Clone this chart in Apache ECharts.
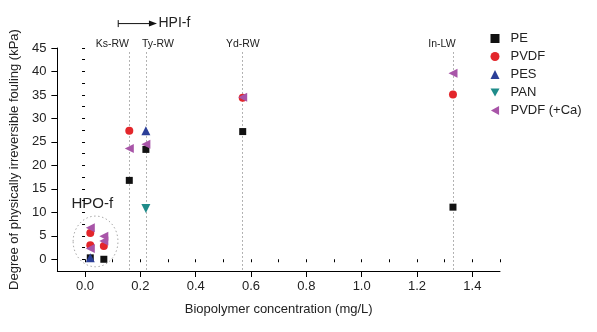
<!DOCTYPE html>
<html><head><meta charset="utf-8">
<script src="https://cdn.jsdelivr.net/npm/echarts@6/dist/echarts.min.js"></script>
<style>html,body{margin:0;padding:0;background:#fff}#c{width:597px;height:332px}</style>
</head><body><div id="c"></div>
<script>
// ---- data ----
const xTicks = [0, 0.2, 0.4, 0.6, 0.8, 1.0, 1.2, 1.4];
const yTicks = [0, 5, 10, 15, 20, 25, 30, 35, 40, 45];
const sampleNames = ['Ks-RW', 'Ty-RW', 'Yd-RW', 'In-LW'];
const sampleX = [0.16, 0.22, 0.57, 1.33];
const seriesNames = ['PE', 'PVDF', 'PES', 'PAN', 'PVDF (+Ca)'];
const pe = [[0.019, 0.3], [0.068, 0.0], [0.16, 16.8], [0.22, 23.4], [0.57, 27.2], [1.33, 11.1]];
const pvdf = [[0.019, 5.6], [0.019, 3.0], [0.068, 2.8], [0.16, 27.4], [0.57, 34.4], [1.33, 35.1]];
const pes = [[0.019, 0.3], [0.22, 27.4]];
const pan = [[0.22, 10.8]];
const pvdfCa = [[0.019, 6.7], [0.019, 2.3], [0.068, 4.9], [0.068, 3.9], [0.16, 23.6], [0.22, 24.5], [0.57, 34.5], [1.33, 39.6]];
const hpoRegion = { x: [-0.043, 0.119], y: [-1.6, 9.2] };
const hpoLabel = { text: 'HPO-f', x: 0.026, y: 11.7 };
const hpiArrow = { text: 'HPI-f', x: [0.12, 0.26], y: 50.2 };

// ---- styles ----
const FONT = '"Liberation Sans", Arial, Helvetica, sans-serif';
const TXT = '#222';
const colors = ['#111111', '#e3262b', '#2b3f98', '#1f8c8a', '#a855a8'];
const symbols = ['rect', 'circle', 'triangle', 'path://M0,0 L10,0 L5,9 Z', 'path://M0,5 L9,0 L9,10 Z'];
const sizes = [7, 8, 9, 9, 9];
const dataSets = [pe, pvdf, pes, pan, pvdfCa];

const chart = echarts.init(document.getElementById('c'), null, { renderer: 'canvas' });

const series = [{
  name: 'refLines', type: 'scatter', data: [], xAxisIndex: 0, yAxisIndex: 0,
  z: 1,
  markLine: {
    z: 1,
    silent: true, symbol: 'none', animation: false,
    label: { show: false },
    lineStyle: { type: [1.5, 2.5], color: '#9a9a9a', width: 1 },
    data: sampleX.map(x => [{ coord: [x, 44.1] }, { coord: [x, -2.5] }])
  }
}];
dataSets.forEach((d, i) => series.push({
  name: seriesNames[i],
  type: 'scatter',
  xAxisIndex: 0, yAxisIndex: 0,
  data: d,
  symbol: symbols[i],
  symbolSize: sizes[i],
  itemStyle: { color: colors[i], opacity: 1 },
  z: 3 + i
}));

const axisCommon = {
  axisLine: { show: false },
  splitLine: { show: false },
};

chart.setOption({
  animation: false,
  backgroundColor: '#fff',
  textStyle: { fontFamily: FONT },
  grid: { left: 57, right: 97, top: 48, bottom: 61, containLabel: false },
  legend: {
    orient: 'vertical', left: 485.5, top: 27,
    itemWidth: 9, itemHeight: 9, itemGap: 5,
    data: seriesNames,
    textStyle: { fontSize: 13, color: TXT, fontFamily: FONT, padding: [0, 0, 0, 6] }
  },
  xAxis: [
    Object.assign({}, axisCommon, {
      type: 'value', position: 'bottom', min: -0.1, max: 1.5, interval: 0.1,
      axisLabel: { show: false },
      axisTick: { show: true, length: 3, lineStyle: { color: '#000' } }
    }),
    {
      type: 'value', position: 'bottom', min: -0.1, max: 1.5,
      axisLine: { show: true, onZero: false, lineStyle: { color: '#000', width: 1 } },
      splitLine: { show: false },
      axisTick: { show: true, length: 6, customValues: xTicks, lineStyle: { color: '#000' } },
      axisLabel: { show: true, customValues: xTicks, margin: 9, fontSize: 13, color: TXT, fontFamily: FONT,
        formatter: v => v.toFixed(1) },
      name: 'Biopolymer concentration (mg/L)', nameLocation: 'middle', nameGap: 32,
      nameTextStyle: { fontSize: 13, color: TXT, fontFamily: FONT }
    }
  ],
  yAxis: [
    Object.assign({}, axisCommon, {
      type: 'value', position: 'left', min: -2.5, max: 45, interval: 2.5,
      axisLabel: { show: false },
      axisTick: { show: true, length: 3, lineStyle: { color: '#000' } }
    }),
    {
      type: 'value', position: 'left', min: -2.5, max: 45,
      axisLine: { show: true, onZero: false, lineStyle: { color: '#000', width: 1 } },
      splitLine: { show: false },
      axisTick: { show: true, length: 6, customValues: yTicks, lineStyle: { color: '#000' } },
      axisLabel: { show: true, customValues: yTicks, margin: 11, fontSize: 13, color: TXT, fontFamily: FONT },
      name: 'Degree of physically irreversible fouling (kPa)', nameLocation: 'middle', nameGap: 36,
      nameTextStyle: { fontSize: 13, color: TXT, fontFamily: FONT }
    }
  ],
  series: series
});

// ---- annotations placed through the axes' scales ----
const px = (x, y) => chart.convertToPixel({ xAxisIndex: 0, yAxisIndex: 0 }, [x, y]);
const labelDx = [-17, 12, 0, -11];
const g = [];
sampleX.forEach((x, i) => {
  const p = px(x, 45.9);
  g.push({ type: 'text', x: p[0] + labelDx[i], y: p[1], silent: true,
    style: { text: sampleNames[i], fill: TXT, font: '10.5px ' + FONT, align: 'center', verticalAlign: 'middle' } });
});
const e0 = px(hpoRegion.x[0], hpoRegion.y[0]);
const e1 = px(hpoRegion.x[1], hpoRegion.y[1]);
g.push({ type: 'ellipse', silent: true,
  shape: { cx: (e0[0] + e1[0]) / 2, cy: (e0[1] + e1[1]) / 2, rx: Math.abs(e1[0] - e0[0]) / 2, ry: Math.abs(e1[1] - e0[1]) / 2 },
  style: { fill: 'none', stroke: '#aaaaaa', lineWidth: 1, lineDash: [1.5, 2.5] }, z: 0 });
const hl = px(hpoLabel.x, hpoLabel.y);
g.push({ type: 'text', x: hl[0], y: hl[1], silent: true,
  style: { text: hpoLabel.text, fill: TXT, font: '15px ' + FONT, align: 'center', verticalAlign: 'middle' } });
const a0 = px(hpiArrow.x[0], hpiArrow.y);
const a1 = px(hpiArrow.x[1], hpiArrow.y);
g.push({ type: 'line', silent: true, shape: { x1: a0[0], y1: a0[1], x2: a1[0] - 6, y2: a1[1] }, style: { stroke: '#111', lineWidth: 1 } });
g.push({ type: 'line', silent: true, shape: { x1: a0[0], y1: a0[1] - 3.5, x2: a0[0], y2: a0[1] + 3.5 }, style: { stroke: '#111', lineWidth: 1 } });
g.push({ type: 'polygon', silent: true, shape: { points: [[a1[0], a1[1]], [a1[0] - 8, a1[1] - 3], [a1[0] - 8, a1[1] + 3]] }, style: { fill: '#111' } });
g.push({ type: 'text', x: a1[0] + 1.5, y: a1[1], silent: true,
  style: { text: hpiArrow.text, fill: TXT, font: '14px ' + FONT, align: 'left', verticalAlign: 'middle' } });
chart.setOption({ graphic: g });
</script>
</body></html>
